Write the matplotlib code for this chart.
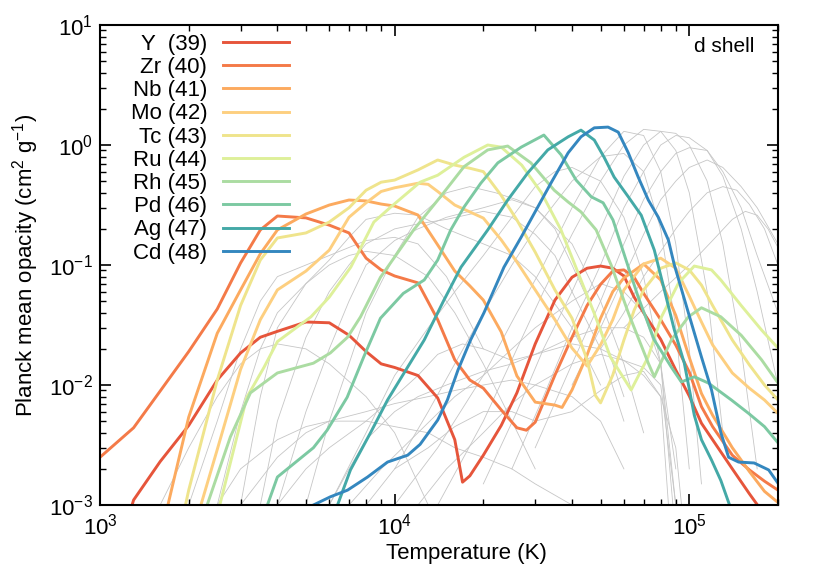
import numpy as np
import matplotlib
matplotlib.use("Agg")
import matplotlib.pyplot as plt

plt.rcParams['font.family'] = ['Liberation Sans', 'DejaVu Sans']
plt.rcParams['mathtext.fontset'] = 'custom'
plt.rcParams['mathtext.rm'] = 'Liberation Sans'
plt.rcParams['mathtext.it'] = 'Liberation Sans:italic'

# --- d shell elements (temperature K, Planck mean opacity cm^2/g) ---
labels = ["Y  (39)", "Zr (40)", "Nb (41)", "Mo (42)", "Tc (43)",
          "Ru (44)", "Rh (45)", "Pd (46)", "Ag (47)", "Cd (48)"]
colors = ["#e6553b", "#f47a48", "#fcaa5f", "#fdcf80", "#efe48c",
          "#def09a", "#abdca2", "#7cc9a2", "#44a9a7", "#3487bf"]

T_y = [1250, 1300, 1600, 2000, 2500, 3000, 3500, 4000, 5000, 6000, 7000, 8000, 9000, 10000,
       12000, 14000, 16000, 17000, 18000, 20000, 23000, 26000, 30000, 35000, 40000, 45000,
       50000, 55000, 60000, 65000, 70000, 80000, 90000, 100000, 110000, 120000, 140000,
       160000, 180000]
k_y = [8e-4, 1.1e-3, 2.3e-3, 4.6e-3, 1.1e-2, 1.85e-2, 2.5e-2, 2.8e-2, 3.35e-2, 3.3e-2, 2.6e-2,
       1.9e-2, 1.5e-2, 1.4e-2, 1.2e-2, 7.8e-3, 3.5e-3, 1.55e-3, 1.75e-3, 2.6e-3, 4.6e-3, 8.6e-3,
       2.2e-2, 5.1e-2, 7.9e-2, 9.4e-2, 9.8e-2, 9.4e-2, 8.1e-2, 5.4e-2, 4.0e-2, 2.4e-2, 1.33e-2,
       8.1e-3, 4.8e-3, 3.5e-3, 2.0e-3, 1.24e-3, 8.3e-4]

T_zr = [1000, 1300, 1600, 2000, 2500, 3000, 3500, 4000, 5000, 6000, 7000, 8000, 9000, 10000,
        12000, 14000, 16000, 18000, 20000, 23000, 26000, 28000, 30000, 35000, 40000, 45000,
        50000, 55000, 60000, 65000, 70000, 80000, 90000, 100000, 110000, 120000, 140000,
        160000, 180000, 200000]
k_zr = [2.5e-3, 4.4e-3, 8.9e-3, 1.9e-2, 4.3e-2, 0.104, 0.196, 0.256, 0.247, 0.215, 0.185, 0.114,
        0.091, 0.081, 0.071, 0.035, 1.62e-2, 1.1e-2, 9.4e-3, 6.2e-3, 4.4e-3, 4.2e-3, 4.9e-3,
        1.21e-2, 2.5e-2, 4.6e-2, 6.9e-2, 8.9e-2, 9.1e-2, 7.9e-2, 5.8e-2, 3.5e-2, 2.15e-2,
        1.28e-2, 6.6e-3, 4.5e-3, 2.6e-3, 1.96e-3, 1.58e-3, 1.33e-3]

T_nb = [1700, 2000, 2500, 3000, 3500, 4000, 5000, 6000, 7000, 8000, 9000, 10000, 12000, 14000,
        16000, 18000, 20000, 23000, 26000, 30000, 35000, 37000, 40000, 45000, 50000, 55000,
        60000, 70000, 80000, 90000, 100000, 110000, 120000, 140000, 160000, 180000, 200000]
k_nb = [1e-3, 5.4e-3, 2.7e-2, 6.2e-2, 0.124, 0.196, 0.266, 0.316, 0.348, 0.342, 0.322, 0.31,
        0.261, 0.147, 0.089, 0.067, 0.051, 2.77e-2, 1.19e-2, 7.2e-3, 6.8e-3, 6.5e-3, 9.1e-3,
        1.78e-2, 3.6e-2, 6.0e-2, 7.8e-2, 0.102, 0.075, 3.8e-2, 1.7e-2, 8.5e-3, 5.6e-3, 3.0e-3,
        1.9e-3, 1.3e-3, 1.05e-3]

T_mo = [2200, 2500, 3000, 3500, 4000, 5000, 6000, 7000, 8000, 9000, 10000, 12000, 13000, 14000,
        16000, 18000, 20000, 23000, 26000, 30000, 35000, 40000, 45000, 50000, 55000, 60000,
        70000, 80000, 90000, 100000, 110000, 120000, 140000, 160000, 180000, 200000]
k_mo = [1e-3, 2.9e-3, 1.35e-2, 3.5e-2, 6.2e-2, 8.9e-2, 0.133, 0.25, 0.33, 0.41, 0.44, 0.48,
        0.47, 0.41, 0.316, 0.277, 0.246, 0.162, 0.106, 0.062, 0.035, 2.03e-2, 1.44e-2, 2.16e-2,
        3.5e-2, 6.2e-2, 0.102, 0.114, 0.094, 0.055, 3.35e-2, 2.16e-2, 1.26e-2, 9.4e-3, 7.5e-3,
        5.8e-3]

T_tc = [1950, 2000, 2500, 3000, 3500, 4000, 5000, 6000, 7000, 8000, 9000, 10000, 12000, 14000,
        16000, 18000, 20000, 23000, 26000, 30000, 35000, 40000, 45000, 48000, 50000, 55000,
        60000, 65000, 70000, 80000, 90000, 100000, 110000, 120000, 140000, 160000, 180000,
        200000]
k_tc = [1e-3, 1.33e-3, 1.1e-2, 4.6e-2, 0.11, 0.168, 0.185, 0.228, 0.30, 0.42, 0.49, 0.51, 0.62,
        0.75, 0.68, 0.64, 0.60, 0.38, 0.237, 0.128, 0.062, 0.036, 1.62e-2, 8.2e-3, 7.1e-3,
        1.21e-2, 2.37e-2, 4.2e-2, 6.2e-2, 9.4e-2, 0.104, 0.091, 0.068, 0.046, 2.37e-2,
        1.47e-2, 1.0e-2, 7.5e-3]

T_ru = [2550, 3150, 3600, 4000, 5200, 6000, 7100, 8500, 9700, 12200, 14000, 17200, 20700,
        23000, 27000, 31500, 36700, 47500, 54000, 63500, 72500, 80500, 92000, 104000, 119000,
        128000, 150000, 176000, 200000]
k_ru = [1e-3, 7.9e-3, 1.4e-2, 2.3e-2, 3.7e-2, 5.4e-2, 9.6e-2, 0.228, 0.304, 0.49, 0.56, 0.79,
        1.0, 0.96, 0.68, 0.40, 0.196, 0.040, 1.71e-2, 9.1e-3, 1.71e-2, 0.037, 0.071, 0.098,
        0.091, 0.075, 0.046, 2.87e-2, 2.03e-2]

T_rh = [2310, 2770, 3240, 4000, 5300, 6050, 6920, 7660, 8950, 11600, 14300, 17200, 20700,
        24200, 29000, 34800, 38800, 42900, 48300, 54300, 62100, 72600, 76100, 86900, 99300,
        110000, 128000, 150000, 176000, 200000]
k_rh = [1e-3, 3.7e-3, 8.6e-3, 1.26e-2, 1.52e-2, 1.85e-2, 2.5e-2, 3.7e-2, 7.9e-2, 0.196, 0.37,
        0.66, 0.91, 0.98, 0.71, 0.42, 0.335, 0.277, 0.196, 0.10, 0.04, 1.52e-2, 1.17e-2,
        2.37e-2, 0.037, 0.044, 0.037, 0.026, 1.62e-2, 1.04e-2]

T_pd = [3700, 4000, 5300, 5900, 6900, 7850, 8950, 10700, 12600, 14000, 15500, 17200, 19600,
        22400, 26900, 32100, 36700, 41300, 46500, 51000, 55100, 61000, 67100, 76100, 86900,
        94000, 104000, 116000, 139000, 159000, 180000, 200000]
k_pd = [1e-3, 1.71e-3, 3.0e-3, 4.2e-3, 7.9e-3, 1.71e-2, 3.6e-2, 5.8e-2, 7.5e-2, 0.11, 0.196,
        0.304, 0.48, 0.71, 0.96, 1.21, 0.83, 0.51, 0.37, 0.33, 0.237, 0.11, 0.054, 2.37e-2,
        1.41e-2, 1.06e-2, 1.17e-2, 1.04e-2, 7.5e-3, 5.8e-3, 4.5e-3, 3.3e-3]

T_ag = [6400, 7080, 8280, 9460, 11070, 12600, 14700, 16800, 20700, 24200, 28300, 33100, 38800,
        42900, 47600, 51400, 55600, 62100, 68700, 76100, 82300, 89000, 96200, 104000, 110000,
        119000, 128000, 137000]
k_ag = [1e-3, 1.96e-3, 4.0e-3, 7.5e-3, 1.41e-2, 2.37e-2, 5.1e-2, 9.6e-2, 0.196, 0.348, 0.585,
        0.91, 1.17, 1.33, 1.10, 0.79, 0.54, 0.37, 0.26, 0.133, 0.062, 2.87e-2, 1.52e-2, 5.6e-3,
        3.5e-3, 2.37e-3, 1.6e-3, 1e-3]

T_cd = [5300, 6050, 6920, 8090, 9460, 11070, 12200, 14000, 15100, 16400, 18100, 20100, 23500,
        26900, 30600, 33900, 38800, 42900, 47600, 53000, 57400, 62100, 67100, 72600, 78500,
        84900, 89000, 99300, 110000, 119000, 128000, 136000, 147000, 166000, 186000, 200000]
k_cd = [1e-3, 1.17e-3, 1.33e-3, 1.71e-3, 2.28e-3, 2.6e-3, 3.2e-3, 5.1e-3, 7.5e-3, 1.33e-2,
        2.37e-2, 0.04, 0.096, 0.171, 0.304, 0.48, 0.86, 1.17, 1.39, 1.41, 1.28, 0.86, 0.54,
        0.348, 0.25, 0.162, 0.10, 0.04, 1.71e-2, 9.1e-3, 4.0e-3, 2.5e-3, 2.28e-3, 2.24e-3,
        1.96e-3, 1.52e-3]

shell_T = [T_y, T_zr, T_nb, T_mo, T_tc, T_ru, T_rh, T_pd, T_ag, T_cd]
shell_k = [k_y, k_zr, k_nb, k_mo, k_tc, k_ru, k_rh, k_pd, k_ag, k_cd]

# --- all other elements, drawn in grey ---
gray_T = [
    [10000, 14000, 20000, 26000, 32000, 40000, 50000, 60000, 70000, 80000, 90000, 100000, 110000],
    [14000, 20000, 26000, 32000, 40000, 50000, 60000, 70000, 80000, 90000, 100000, 115000, 130000],
    [20000, 26000, 32000, 40000, 50000, 60000, 70000, 80000, 90000, 100000, 115000, 130000, 150000, 170000],
    [25000, 32000, 40000, 50000, 60000, 70000, 80000, 90000, 100000, 115000, 130000, 150000, 170000, 200000],
    [30000, 40000, 50000, 60000, 70000, 80000, 90000, 100000, 115000, 130000, 150000, 170000, 200000],
    [40000, 50000, 60000, 70000, 80000, 90000, 100000, 115000, 130000, 150000, 170000, 200000],
    [50000, 60000, 70000, 80000, 90000, 100000, 115000, 130000, 145000, 160000, 180000, 200000],
    [60000, 80000, 100000, 120000, 140000, 155000, 170000, 185000, 200000],
    [6000, 8000, 10000, 13000, 16000, 20000, 25000, 30000, 35000, 40000, 50000, 60000, 70000, 80000, 90000],
    [10000, 13000, 16000, 20000, 25000, 30000, 40000, 50000, 60000, 70000, 80000, 90000, 100000],
    [3000, 3500, 4000, 5000, 6000, 7000, 8000, 10000, 12000, 15000, 20000, 25000, 30000, 40000, 50000],
    [3500, 4000, 5000, 6000, 7000, 8000, 10000, 12000, 15000, 20000, 25000, 30000, 35000, 40000, 50000, 60000],
    [4000, 5000, 6000, 7000, 8000, 10000, 12000, 15000, 20000, 25000, 30000, 40000, 50000, 60000, 70000],
    [2500, 3000, 3500, 4000, 5000, 6000, 7000, 8000, 10000, 13000, 16000, 20000, 25000, 30000],
    [5000, 6000, 7000, 8000, 10000, 12000, 15000, 18000, 22000, 26000, 30000, 35000, 40000, 50000, 60000],
    [2500, 3000, 4000, 5000, 6000, 8000, 10000, 13000, 16000, 20000, 25000, 30000, 40000],
    [3000, 4000, 5000, 6000, 8000, 10000, 13000, 16000, 20000, 25000, 30000, 40000, 50000, 60000],
    [6000, 7000, 8000, 10000, 12000, 15000, 20000, 25000, 30000, 35000, 40000, 50000, 60000, 70000, 80000, 90000],
    [8000, 10000, 13000, 16000, 20000, 25000, 30000, 40000, 50000, 60000, 70000, 80000, 85000],
    [4000, 5000, 6000, 8000, 10000, 12000, 14000, 17000, 20000, 25000, 30000, 40000, 50000, 60000, 70000, 80000, 90000],
    [12000, 15000, 20000, 25000, 30000, 40000, 50000, 60000, 70000, 80000, 90000, 95000],
    [1600, 2000, 2500, 3000, 3500, 4000, 5000, 6000, 8000, 10000, 13000],
    [2000, 2500, 3000, 3500, 4000, 5000, 6000, 8000, 10000, 12000, 15000, 20000],
    [7000, 9000, 12000, 16000, 20000, 25000, 30000, 40000, 50000, 60000, 70000, 80000, 88000],
]
gray_k = [
    [1e-3, 3e-3, 1.2e-2, 4e-2, 0.1, 0.3, 0.8, 1.3, 1.2, 0.6, 0.15, 0.02, 1.5e-3],
    [1e-3, 5e-3, 2e-2, 6e-2, 0.18, 0.5, 1.0, 1.35, 1.3, 0.9, 0.4, 0.06, 4e-3],
    [1.5e-3, 6e-3, 2e-2, 6e-2, 0.2, 0.55, 1.0, 1.3, 1.25, 1.0, 0.5, 0.15, 0.02, 2e-3],
    [2e-3, 8e-3, 3e-2, 0.1, 0.3, 0.6, 1.0, 1.2, 1.15, 0.9, 0.55, 0.2, 0.06, 0.01],
    [3e-3, 1.5e-2, 5e-2, 0.15, 0.35, 0.6, 0.85, 0.95, 0.9, 0.6, 0.3, 0.12, 0.04],
    [1e-2, 3e-2, 8e-2, 0.18, 0.35, 0.5, 0.65, 0.75, 0.65, 0.45, 0.3, 0.15],
    [2e-2, 4e-2, 8e-2, 0.13, 0.2, 0.28, 0.4, 0.45, 0.42, 0.32, 0.2, 0.1],
    [3e-2, 6e-2, 0.1, 0.16, 0.24, 0.28, 0.26, 0.2, 0.14],
    [1e-3, 4e-3, 1.2e-2, 3e-2, 6e-2, 0.12, 0.25, 0.45, 0.6, 0.65, 0.5, 0.25, 0.08, 1.5e-2, 2e-3],
    [2e-3, 6e-3, 1.5e-2, 4e-2, 0.1, 0.2, 0.5, 0.8, 0.85, 0.6, 0.2, 0.03, 2e-3],
    [1e-3, 8e-3, 3e-2, 7e-2, 0.11, 0.17, 0.24, 0.27, 0.26, 0.2, 0.15, 0.12, 0.08, 0.03, 1e-2],
    [1e-3, 5e-3, 2.5e-2, 6e-2, 0.1, 0.15, 0.2, 0.22, 0.24, 0.28, 0.25, 0.18, 0.12, 0.06, 0.02, 5e-3],
    [1e-3, 6e-3, 2e-2, 5e-2, 0.1, 0.16, 0.2, 0.25, 0.3, 0.35, 0.3, 0.15, 0.05, 1.5e-2, 4e-3],
    [1e-3, 6e-3, 2e-2, 4e-2, 7e-2, 0.1, 0.12, 0.13, 0.12, 0.08, 0.04, 0.015, 5e-3, 2e-3],
    [1e-3, 5e-3, 1.5e-2, 4e-2, 0.12, 0.25, 0.4, 0.45, 0.4, 0.35, 0.3, 0.2, 0.1, 0.03, 8e-3],
    [1e-3, 2e-3, 3.5e-3, 4.5e-3, 5e-3, 5e-3, 4.5e-3, 4e-3, 3e-3, 2.5e-3, 2e-3, 1.5e-3, 1e-3],
    [1e-3, 2.5e-3, 4e-3, 5e-3, 6e-3, 7e-3, 8e-3, 9e-3, 1e-2, 1.1e-2, 1e-2, 8e-3, 5e-3, 2e-3],
    [1e-3, 2e-3, 3.5e-3, 6e-3, 8e-3, 1e-2, 1.3e-2, 1.5e-2, 1.8e-2, 2e-2, 2.2e-2, 2e-2, 1.6e-2, 1.4e-2, 1e-2, 1e-3],
    [1e-3, 2e-3, 3e-3, 4.5e-3, 6e-3, 6e-3, 5e-3, 6e-3, 9e-3, 1.2e-2, 1.3e-2, 8e-3, 1e-3],
    [1e-3, 2e-3, 3e-3, 5e-3, 8e-3, 1.2e-2, 1.8e-2, 2.2e-2, 2e-2, 1.6e-2, 1.8e-2, 2.5e-2, 3e-2, 3e-2, 2.5e-2, 1.5e-2, 1e-3],
    [1e-3, 2e-3, 4e-3, 7e-3, 1e-2, 1.5e-2, 1.8e-2, 1.6e-2, 1.2e-2, 8e-3, 3e-3, 8e-4],
    [1e-3, 3e-3, 8e-3, 1.5e-2, 2e-2, 2.2e-2, 2e-2, 1.5e-2, 8e-3, 4e-3, 1e-3],
    [1e-3, 5e-3, 2e-2, 5e-2, 0.08, 0.1, 0.12, 0.16, 0.17, 0.15, 0.08, 0.02],
    [1e-3, 2e-3, 4e-3, 8e-3, 1.2e-2, 2e-2, 3e-2, 5e-2, 7e-2, 6e-2, 4e-2, 1.5e-2, 1e-3],
]

fig = plt.figure(figsize=(8.3, 5.8), dpi=100)
ax = fig.add_axes([0.1205, 0.1293, 0.8168, 0.8276])

for t, k in zip(gray_T, gray_k):
    ax.plot(t, k, color='#c6c6c6', lw=0.6, zorder=1)

for t, k, lab, c in zip(shell_T, shell_k, labels, colors):
    ax.plot(t, k, color=c, lw=2.1, label=lab, zorder=2)

ax.set_xscale('log')
ax.set_yscale('log')
ax.set_xlim(1e3, 2e5)
ax.set_ylim(1e-3, 1e1)

ax.tick_params(which='both', direction='in', top=True, right=True, labelsize=16)
ax.tick_params(which='major', length=8, width=1.2)
ax.tick_params(which='minor', length=4, width=1.0)
ax.tick_params(axis='x', pad=6)
ax.tick_params(axis='y', pad=5)
for s in ax.spines.values():
    s.set_linewidth(1.5)

ax.set_xlabel('Temperature (K)', fontsize=16)
ax.xaxis.set_label_coords(0.54, -0.08)
ax.set_ylabel('Planck mean opacity (cm$^2$ g$^{-1}$)', fontsize=16, labelpad=6)

ax.text(0.965, 0.955, 'd shell', transform=ax.transAxes, ha='right', va='center', fontsize=15)

leg = ax.legend(loc='upper left', bbox_to_anchor=(0.045, 0.982), frameon=False,
                markerfirst=False, handlelength=3.0, handletextpad=0.7,
                labelspacing=0.1, fontsize=16, borderaxespad=0, borderpad=0)

fig.savefig('out.png', dpi=100)
